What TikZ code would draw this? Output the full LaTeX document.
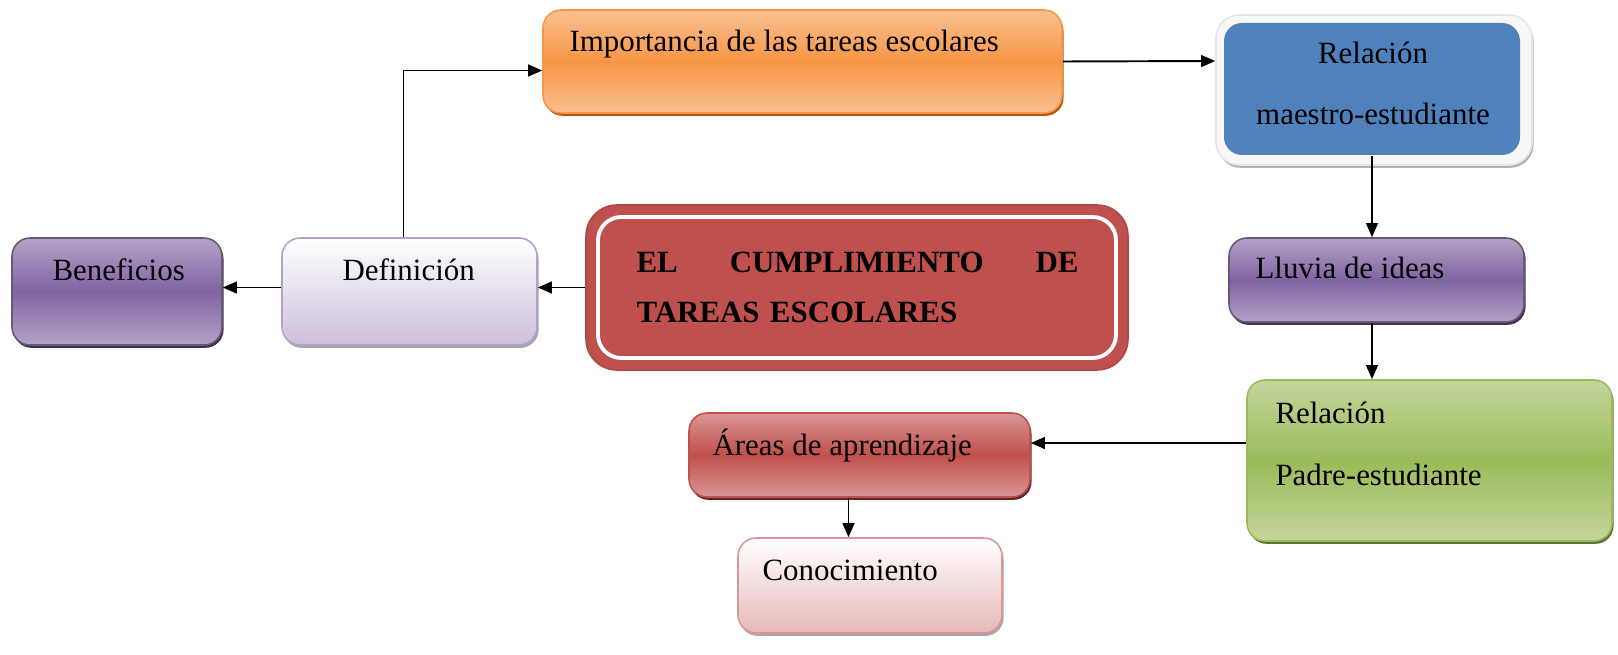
\documentclass[tikz,border=0pt]{standalone}
\usepackage{fontspec}
\setmainfont{Liberation Serif}
\usetikzlibrary{arrows.meta,fit,calc,shadows}

\definecolor{naranja}{HTML}{F79646}
\definecolor{naranjaclaro}{HTML}{FAC090}
\definecolor{naranjaosc}{HTML}{B65708}
\definecolor{azul}{HTML}{4F81BD}
\definecolor{morado}{HTML}{8064A2}
\definecolor{moradoclaro}{HTML}{B3A2C7}
\definecolor{moradoosc}{HTML}{3F3151}
\definecolor{lila}{HTML}{CCC0DA}
\definecolor{rojo}{HTML}{C0504D}
\definecolor{rojoclaro}{HTML}{D99694}
\definecolor{rojoosc}{HTML}{632523}
\definecolor{rosa}{HTML}{E6B9B8}
\definecolor{verde}{HTML}{9BBB59}
\definecolor{verdeclaro}{HTML}{C3D69B}

\tikzset{
  caja/.style={rounded corners=7pt, inner sep=0pt, line width=0.6pt},
  sombra/.style={drop shadow={shadow xshift=0.6pt, shadow yshift=-1.1pt, fill=#1, opacity=1}},
  naranjabox/.style={caja, draw=naranja, top color=naranjaclaro, bottom color=naranjaclaro, middle color=naranja, sombra=naranjaosc},
  moradobox/.style={caja, draw=moradoosc!80, top color=moradoclaro, bottom color=moradoclaro, middle color=morado, sombra=moradoosc},
  lilabox/.style={caja, draw=moradoclaro, top color=white, bottom color=lila, sombra=gray!70},
  rojobox/.style={caja, draw=rojo, top color=rojoclaro, bottom color=rojoclaro, middle color=rojo, sombra=rojoosc},
  rosabox/.style={caja, draw=rojoclaro, top color=white, bottom color=rosa, sombra=gray!70},
  verdebox/.style={caja, draw=verde, top color=verdeclaro, bottom color=verdeclaro, middle color=verde, sombra=verde!60!black},
  marco/.style={caja, rounded corners=9pt, draw=gray!20, fill=gray!6, sombra=gray!60},
  azulbox/.style={caja, fill=azul},
  texto/.style={inner sep=0pt, font=\fontsize{12}{24}\selectfont},
  arr/.style={-{Triangle[length=5.5pt,width=4.6pt]}, line width=0.75pt}
}

\begin{document}
\begin{tikzpicture}[x=0.388pt, y=-0.388pt]
\useasboundingbox (0,0) rectangle (1618,655);

% cajas
\node[naranjabox, fit={(543,10) (1062,113)}] (importancia) {};
\node[marco, fit={(1216,15) (1532,165)}] (maestro) {};
\node[azulbox, fit={(1224,23) (1520,155)}] (maestro-in) {};
\node[moradobox, fit={(12,238) (222,345)}] (beneficios) {};
\node[lilabox, fit={(282,238) (537,345)}] (definicion) {};
\node[caja, rounded corners=12pt, fill=rojo, draw=rojo!90!black, fit={(586,205) (1128,370)}] (cumplimiento) {};
\node[caja, rounded corners=9pt, draw=white, line width=1.5pt, fit={(598,217) (1116,358)}] (cumplimiento-in) {};
\node[moradobox, fit={(1229,238) (1524,322)}] (lluvia) {};
\node[verdebox, fit={(1247,380) (1612,541)}] (padre) {};
\node[rojobox, fit={(689,413) (1030,497)}] (areas) {};
\node[rosabox, fit={(738,538) (1002,633)}] (conocimiento) {};

% textos (nodos de varias lineas: base = ultima linea)
\node[texto, anchor=base west] (importancia-t) at (569,52) {Importancia de las tareas escolares};
\node[texto, anchor=base, align=center] (maestro-t) at (1373,125) {Relación\\maestro-estudiante};
\node[texto, anchor=base west] (beneficios-t) at (52,280) {Beneficios};
\node[texto, anchor=base west] (definicion-t) at (342,280) {Definición};
\node[texto, anchor=base west, text width=171.5pt, align=left,
  font=\bfseries\fontsize{12}{19.4}\selectfont] (cumplimiento-t) at (636,272)
  {EL\hfill CUMPLIMIENTO\hfill DE\\TAREAS ESCOLARES};
\node[texto, anchor=base west] (lluvia-t) at (1255,278) {Lluvia de ideas};
\node[texto, anchor=base west, align=left] (padre-t) at (1275,485) {Relación\\Padre-estudiante};
\node[texto, anchor=base west] (areas-t) at (712,455) {Áreas de aprendizaje};
\node[texto, anchor=base west] (conocimiento-t) at (762,580) {Conocimiento};

% flechas
\coordinate (d-up) at ($(definicion.north)+(-6,0)$);
\draw[arr] (d-up) |- ($(importancia.west)+(0,9)$);
\draw[arr] (importancia.east) -- ($(maestro.west)+(0,-29)$);
\draw[arr] (maestro-in.south) -- (maestro-in.south |- lluvia.north);
\draw[arr] (maestro-in.south |- lluvia.south) -- (maestro-in.south |- padre.north);
\coordinate (pa) at ($(areas.east)+(0,-12)$);
\draw[arr] (padre.west |- pa) -- (pa);
\coordinate (ac) at ($(areas.south)+(-11,0)$);
\draw[arr] (ac) -- (ac |- conocimiento.north);
\draw[arr] (cumplimiento.west) -- (cumplimiento.west -| definicion.east);
\draw[arr] (cumplimiento.west -| definicion.west) -- (cumplimiento.west -| beneficios.east);

\end{tikzpicture}
\end{document}
